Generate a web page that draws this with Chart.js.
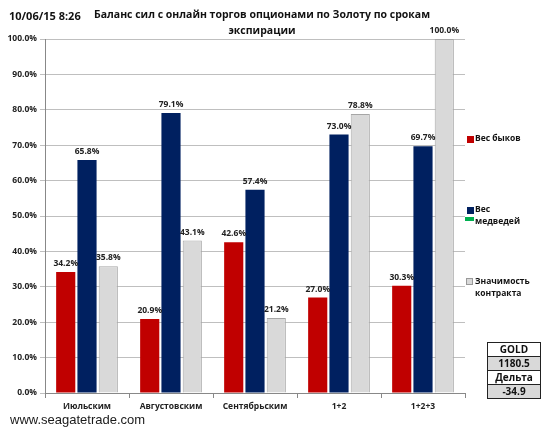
<!DOCTYPE html>
<html>
<head>
<meta charset="utf-8">
<script src="https://cdn.jsdelivr.net/npm/chart.js@4.4.0/dist/chart.umd.min.js"></script>
<style>
  body { margin: 0; background: #fff; font-family: "Open Sans", "DejaVu Sans", sans-serif; }
  #wrap { position: relative; width: 550px; height: 438px; }
  #chart { position: absolute; left: 0; top: 0; }
  .txt { position: absolute; color: #111; font-weight: bold; white-space: nowrap; }
  .leg { position: absolute; font-size: 8.5px; font-weight: bold; color: #111; line-height: 12px; }
  .sw { position: absolute; width: 7px; height: 7px; }
  table.gold { position: absolute; left: 487px; top: 342px; border-collapse: collapse; width: 54px; }
  table.gold td { border: 1px solid #222; text-align: center; font-weight: bold; font-size: 10px; padding: 0; height: 13px; line-height: 13px; color: #111; }
</style>
</head>
<body>
<div id="wrap">
  <canvas id="chart" width="550" height="438"></canvas>
  <div class="txt" style="left:9px;top:8px;font-size:11px;">10/06/15 8:26</div>
  <div class="txt" style="left:47px;top:6px;width:430px;text-align:center;font-size:10.5px;line-height:16px;">Баланс сил с онлайн торгов опционами по Золоту по срокам<br>экспирации</div>

  <div class="sw" style="left:467px;top:136px;background:#C00000;"></div>
  <div class="leg" style="left:475px;top:132px;">Вес быков</div>
  <div class="sw" style="left:467px;top:207px;background:#002060;"></div>
  <div class="sw" style="left:465px;top:217px;width:9px;height:4px;background:#00B050;"></div>
  <div class="leg" style="left:475px;top:203px;">Вес<br>медведей</div>
  <div class="sw" style="left:466px;top:278px;background:#D9D9D9;border:1px solid #999;width:5px;height:5px;"></div>
  <div class="leg" style="left:475px;top:275px;">Значимость<br>контракта</div>

  <table class="gold">
    <tr><td>GOLD</td></tr>
    <tr><td style="background:#D9D9D9;">1180.5</td></tr>
    <tr><td>Дельта</td></tr>
    <tr><td style="background:#D9D9D9;">-34.9</td></tr>
  </table>

  <div style="position:absolute;left:10px;top:412px;font-size:13px;color:#1a1a1a;font-family:'Liberation Sans','DejaVu Sans',sans-serif;">www.seagatetrade.com</div>
</div>
<script>
const categories = ['Июльским', 'Августовским', 'Сентябрьским', '1+2', '1+2+3'];
const bulls = [34.2, 20.9, 42.6, 27.0, 30.3];
const bears = [65.8, 79.1, 57.4, 73.0, 69.7];
const significance = [35.8, 43.1, 21.2, 78.8, 100.0];
const yTicks = [0, 10, 20, 30, 40, 50, 60, 70, 80, 90, 100];

// value labels above each bar
const valueLabels = {
    id: 'valueLabels',
    afterDatasetsDraw(chart) {
        const ctx = chart.ctx;
        ctx.save();
        ctx.font = 'bold 8.5px "Open Sans", sans-serif';
        ctx.fillStyle = '#222';
        ctx.textAlign = 'center';
        ctx.textBaseline = 'bottom';
        chart.data.datasets.forEach((ds, i) => {
            chart.getDatasetMeta(i).data.forEach((bar, j) => {
                ctx.fillText(ds.data[j].toFixed(1) + '%', bar.x, bar.y - 4);
            });
        });
        ctx.restore();
    }
};

new Chart(document.getElementById('chart').getContext('2d'), {
    type: 'bar',
    data: {
        labels: categories,
        datasets: [
            { label: 'Вес быков', data: bulls, backgroundColor: '#C00000' },
            { label: 'Вес медведей', data: bears, backgroundColor: '#002060' },
            { label: 'Значимость контракта', data: significance, backgroundColor: '#D9D9D9', borderColor: '#A6A6A6', borderWidth: 1 }
        ]
    },
    options: {
        responsive: false,
        animation: false,
        layout: { padding: { left: 0, right: 85, top: 39, bottom: 0 } },
        datasets: { bar: { categoryPercentage: 0.76, barPercentage: 0.9 } },
        plugins: { legend: { display: false }, tooltip: { enabled: false } },
        scales: {
            x: {
                afterFit(scale) { scale.height = 45; },
                grid: { drawOnChartArea: false, tickLength: 5, color: '#888' },
                border: { color: '#888' },
                ticks: { font: { size: 8.5, weight: 'bold', family: '"Open Sans", sans-serif' }, color: '#222', padding: 3, maxRotation: 0 }
            },
            y: {
                min: 0,
                max: 100,
                afterFit(scale) { scale.width = 45; },
                afterBuildTicks(scale) { scale.ticks = yTicks.map(v => ({ value: v })); },
                grid: { color: '#BFBFBF', tickLength: 5 },
                border: { color: '#888' },
                ticks: {
                    font: { size: 8.5, weight: 'bold', family: '"Open Sans", sans-serif' },
                    color: '#222',
                    padding: 3,
                    callback: v => v.toFixed(1) + '%'
                }
            }
        }
    },
    plugins: [valueLabels]
});
</script>
</body>
</html>
